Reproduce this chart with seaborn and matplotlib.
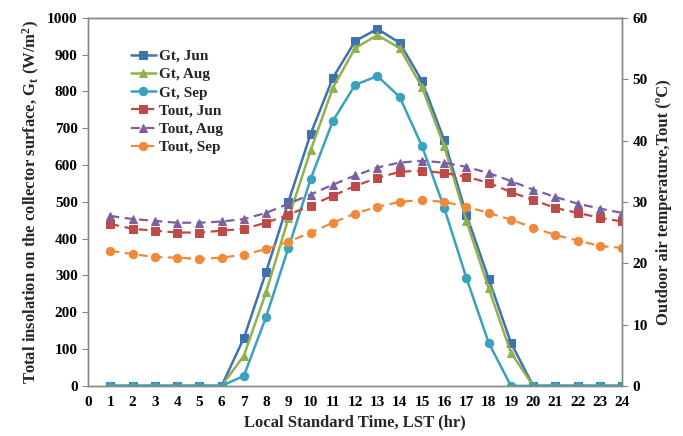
import matplotlib
matplotlib.use('Agg')
import matplotlib.pyplot as plt
import seaborn as sns
import pandas as pd
import numpy as np

hours = list(range(1, 25))

gt_jun = [0, 0, 0, 0, 0, 0, 130, 310, 500, 685, 837, 937, 970, 932, 829, 668, 465, 291, 117, 0, 0, 0, 0, 0]
gt_aug = [0, 0, 0, 0, 0, 0, 82, 255, 455, 640, 810, 918, 953, 918, 812, 652, 448, 265, 90, 0, 0, 0, 0, 0]
gt_sep = [0, 0, 0, 0, 0, 0, 27, 188, 375, 562, 720, 818, 842, 785, 652, 484, 293, 117, 0, 0, 0, 0, 0, 0]

tout_jun = [26.4, 25.6, 25.3, 25.0, 25.0, 25.3, 25.6, 26.6, 27.9, 29.4, 31.0, 32.6,
            33.9, 34.9, 35.1, 34.7, 34.1, 33.1, 31.6, 30.3, 29.0, 28.2, 27.4, 26.8]
tout_aug = [27.7, 27.2, 26.9, 26.6, 26.6, 26.8, 27.2, 28.2, 29.7, 31.2, 32.8, 34.3,
            35.6, 36.4, 36.7, 36.4, 35.7, 34.7, 33.4, 32.0, 30.8, 29.7, 28.9, 28.2]
tout_sep = [22.0, 21.5, 21.0, 20.9, 20.7, 20.9, 21.4, 22.3, 23.5, 25.0, 26.6, 28.1,
            29.2, 30.0, 30.3, 30.0, 29.2, 28.2, 27.1, 25.8, 24.6, 23.7, 22.8, 22.5]

sns.set_style('white')
plt.rcParams['font.family'] = ['Liberation Serif', 'DejaVu Serif']
plt.rcParams['font.weight'] = 'bold'
plt.rcParams['mathtext.fontset'] = 'custom'
plt.rcParams['mathtext.rm'] = 'Liberation Serif:bold'
plt.rcParams['mathtext.bf'] = 'Liberation Serif:bold'
plt.rcParams['mathtext.it'] = 'Liberation Serif:bold'

fig = plt.figure(figsize=(6.83, 4.36), dpi=100)
ax = fig.add_axes([0.129, 0.115, 0.782, 0.844])
ax2 = ax.twinx()

# irradiance on left axis
gt_series = [('Gt, Jun', gt_jun, '#3F72AF', 's'),
             ('Gt, Aug', gt_aug, '#8FB24F', '^'),
             ('Gt, Sep', gt_sep, '#3AA2BD', 'o')]
for lab, vals, col, mk in gt_series:
    sns.lineplot(x=hours, y=vals, ax=ax, color=col, marker=mk, markersize=6,
                 markeredgecolor=col, linewidth=1.8, label=lab, legend=False)

# outdoor temperature on right axis
t_series = [('Tout, Jun', tout_jun, '#BE4B48', 's'),
            ('Tout, Aug', tout_aug, '#7D5FA0', '^'),
            ('Tout, Sep', tout_sep, '#F08A3A', 'o')]
for lab, vals, col, mk in t_series:
    sns.lineplot(x=hours, y=vals, ax=ax2, color=col, marker=mk, markersize=6,
                 markeredgecolor=col, linewidth=1.6, linestyle=(0, (4, 2.5)),
                 label=lab, legend=False)

ax.set_xlim(0, 24)
ax.set_ylim(0, 1000)
ax2.set_ylim(0, 60)
ax.set_xticks(range(0, 25))
ax.set_yticks(range(0, 1001, 100))
ax2.set_yticks(range(0, 61, 10))

for a in (ax, ax2):
    for s in a.spines.values():
        s.set_color('#888888')
        s.set_linewidth(1.0)
    a.tick_params(labelsize=11, labelcolor='black', length=4, width=0.8, color='#888888')
ax.spines['top'].set_color('#555555')

ax.set_xlabel('Local Standard Time, LST (hr)', fontsize=12, fontweight='bold')
ax.set_ylabel(r'Total insolation on the collector surface, G$_{\mathrm{t}}$ (W/m$^{\mathrm{2}}$)',
              fontsize=12, fontweight='bold', labelpad=4)
ax2.set_ylabel('Outdoor air temperature,Tout (\u00baC)', fontsize=12, fontweight='bold', labelpad=6)

h1, l1 = ax.get_legend_handles_labels()
h2, l2 = ax2.get_legend_handles_labels()
leg = ax2.legend(h1 + h2, l1 + l2, loc='upper left', bbox_to_anchor=(0.055, 0.952),
                 frameon=False, handlelength=1.6, labelspacing=0.3,
                 handletextpad=0.2, prop={'weight': 'bold', 'size': 11})

fig.savefig('out.png', dpi=100)
